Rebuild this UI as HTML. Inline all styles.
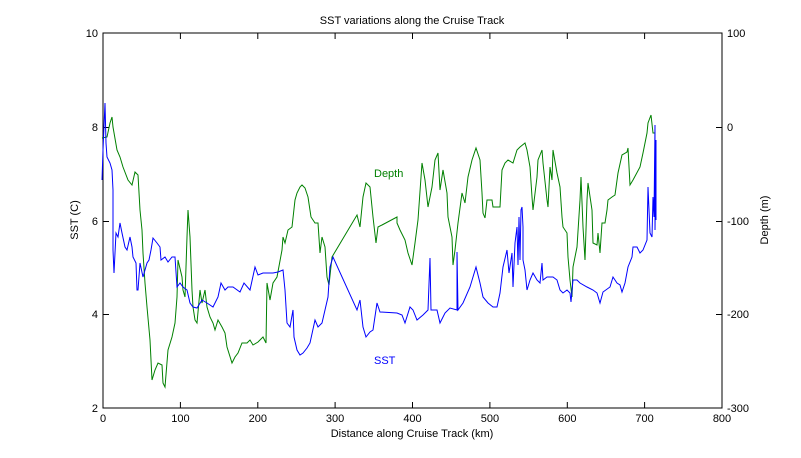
<!DOCTYPE html>
<html><head><meta charset="utf-8"><style>
html,body{margin:0;padding:0;background:#fff;}
svg{display:block;font-family:"Liberation Sans",sans-serif;font-size:11px;}
</style></head><body>
<svg width="801" height="458" viewBox="0 0 801 458" xmlns="http://www.w3.org/2000/svg">
<rect width="801" height="458" fill="#fff"/>
<text x="412" y="24" text-anchor="middle" font-size="11">SST variations along the Cruise Track</text>
<rect x="103" y="33" width="619" height="375" fill="none" stroke="#000" stroke-width="1"/>
<g stroke="#000" stroke-width="1">
<line x1="103" y1="408" x2="103" y2="402"/><line x1="180.4" y1="408" x2="180.4" y2="402"/><line x1="257.8" y1="408" x2="257.8" y2="402"/><line x1="335.1" y1="408" x2="335.1" y2="402"/><line x1="412.5" y1="408" x2="412.5" y2="402"/><line x1="489.9" y1="408" x2="489.9" y2="402"/><line x1="567.3" y1="408" x2="567.3" y2="402"/><line x1="644.6" y1="408" x2="644.6" y2="402"/>
<line x1="180.4" y1="33" x2="180.4" y2="39"/><line x1="257.8" y1="33" x2="257.8" y2="39"/><line x1="335.1" y1="33" x2="335.1" y2="39"/><line x1="412.5" y1="33" x2="412.5" y2="39"/><line x1="489.9" y1="33" x2="489.9" y2="39"/><line x1="567.3" y1="33" x2="567.3" y2="39"/><line x1="644.6" y1="33" x2="644.6" y2="39"/>
<line x1="103" y1="127.5" x2="109" y2="127.5"/><line x1="103" y1="221.5" x2="109" y2="221.5"/><line x1="103" y1="314.5" x2="109" y2="314.5"/>
<line x1="722" y1="127.5" x2="716" y2="127.5"/><line x1="722" y1="221.5" x2="716" y2="221.5"/><line x1="722" y1="314.5" x2="716" y2="314.5"/>
</g>
<g text-anchor="middle">
<text x="103" y="422">0</text><text x="180.4" y="422">100</text><text x="257.8" y="422">200</text><text x="335.1" y="422">300</text><text x="412.5" y="422">400</text><text x="489.9" y="422">500</text><text x="567.3" y="422">600</text><text x="644.6" y="422">700</text><text x="722" y="422">800</text>
</g>
<g text-anchor="end">
<text x="98" y="37">10</text><text x="98" y="131">8</text><text x="98" y="225">6</text><text x="98" y="318">4</text><text x="98" y="412">2</text>
</g>
<g text-anchor="start">
<text x="727" y="37">100</text><text x="727" y="131">0</text><text x="727" y="225">-100</text><text x="727" y="318">-200</text><text x="727" y="412">-300</text>
</g>
<text x="412" y="437" text-anchor="middle">Distance along Cruise Track (km)</text>
<text transform="translate(78,220) rotate(-90)" text-anchor="middle">SST (C)</text>
<text transform="translate(768,220) rotate(-90)" text-anchor="middle">Depth (m)</text>
<polyline fill="none" stroke="#008000" stroke-width="1" points="102,138 107,137 110,123 112,117 113,127 117,150 120,157 123,167 128,180 132,185 135,172 138,175 140,210 142,230 143,253 145,283 147,307 150,340 152,380 155,370 158,363 162,365 163,383 165,387 168,350 172,337 175,323 177,297 178,260 182,277 183,290 185,297 187,237 188,210 190,237 192,290 193,307 195,320 197,323 200,290 202,303 205,290 207,307 210,317 213,323 215,330 218,320 222,327 225,333 227,347 232,363 235,357 238,353 242,343 247,343 250,340 253,345 258,342 263,337 266,343 267,283 270,300 273,283 277,277 282,250 283,237 285,243 288,230 292,227 295,200 297,193 300,187 302,185 305,188 308,197 311,217 315,223 318,223 320,253 322,237 325,247 327,277 329,285 332,257 357,215 360,227 363,197 366,183 370,187 373,217 376,243 378,227 382,225 397,217 397,223 400,230 405,240 408,253 412,265 415,243 418,220 422,163 425,180 428,207 432,187 435,160 438,153 440,190 443,170 447,193 448,217 452,237 453,265 455,250 458,223 462,193 465,203 468,177 472,160 476,148 480,160 482,193 483,213 485,218 487,200 492,200 493,207 500,207 502,170 505,163 508,160 513,163 517,150 520,147 525,143 527,150 530,167 532,197 533,210 537,177 538,160 542,150 543,163 547,200 548,207 550,167 552,180 553,150 557,173 560,187 562,217 563,227 567,233 568,257 570,280 572,297 573,267 577,247 580,200 581,177 583,227 585,260 587,200 588,183 592,210 593,243 597,245 598,233 600,253 602,223 605,223 607,210 608,200 612,197 615,195 618,173 622,155 627,152 628,148 630,185 633,180 640,167 643,153 647,133 648,123 651,115 653,133 655,133"/>
<polyline fill="none" stroke="#0000ff" stroke-width="1" points="102,180 103,150 105,103 106,143 107,157 110,163 112,170 113,190 113,250 114,273 116,233 118,237 120,223 122,233 125,247 127,250 130,237 132,247 133,257 136,263 137,290 138,290 140,263 143,277 147,263 149,260 151,250 153,238 157,243 160,247 161,260 165,257 168,262 172,257 175,257 177,287 180,283 183,287 187,290 190,303 193,307 197,308 202,300 207,303 213,307 218,297 221,283 225,290 228,287 233,287 240,292 244,283 250,290 255,267 258,275 263,273 268,273 273,273 278,272 283,270 285,290 287,323 290,327 293,310 294,337 297,350 300,355 303,353 307,348 310,343 315,320 318,327 322,323 325,310 328,297 330,267 333,257 357,310 360,300 363,327 366,337 370,332 373,330 377,303 380,312 397,313 402,315 405,323 410,307 413,310 417,320 423,315 428,310 430,258 431,310 437,310 440,323 445,313 450,308 457,310 457,252 458,310 463,303 470,287 476,267 480,283 483,297 488,303 493,307 497,307 500,293 503,267 507,250 509,273 512,253 513,287 515,243 517,227 518,265 519,217 520,260 521,210 522,207 523,227 523,260 525,270 527,290 530,280 533,273 537,280 540,283 542,263 543,280 547,277 553,277 557,280 560,290 563,293 567,290 570,293 571,302 573,280 577,280 580,283 587,287 593,290 597,293 600,303 603,292 610,287 613,277 617,283 620,285 622,292 625,283 628,267 632,257 633,247 637,247 640,253 643,250 647,240 648,187 650,233 652,237 653,197 654,217 655,125 655,230 656,140 656,220"/>
<text x="374" y="177" fill="#008000">Depth</text>
<text x="374" y="364" fill="#0000ff">SST</text>
</svg>
</body></html>
